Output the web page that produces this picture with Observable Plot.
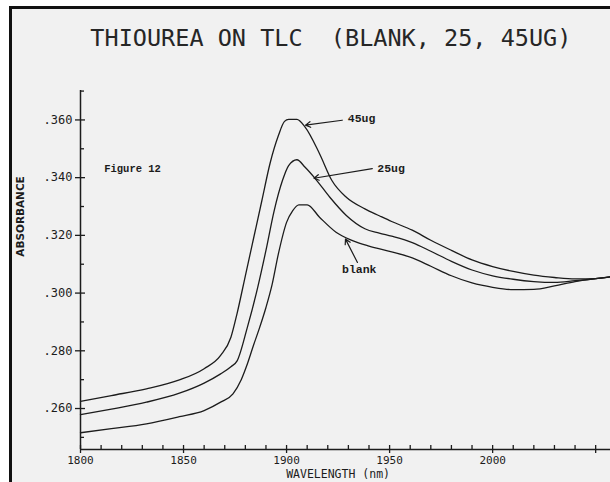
<!DOCTYPE html>
<html><head><meta charset="utf-8">
<script src="https://cdn.jsdelivr.net/npm/d3@7"></script>
<script src="https://cdn.jsdelivr.net/npm/@observablehq/plot@0.6"></script>
<style>
html,body{margin:0;padding:0;background:#fff;}
#wrap{position:relative;width:610px;height:482px;overflow:hidden;}
#paper{position:absolute;left:9px;top:6px;right:0;bottom:0;background:#f1f1f1;border-left:3px solid #111;border-top:3px solid #111;}
#chart{position:absolute;left:0;top:0;}
</style></head><body>
<div id="wrap"><div id="paper"></div><div id="chart"></div></div>
<script>
const title = "THIOUREA ON TLC  (BLANK, 25, 45UG)";
const xTitle = "WAVELENGTH (nm)";
const yTitle = "ABSORBANCE";
const figureLabel = "Figure 12";

const xLabeled = [1800, 1850, 1900, 1950, 2000];
const xMajor = [1800, 1850, 1900, 1950, 2000, 2050];
const xMinor = d3.range(1800, 2051, 10);
const yMajor = [0.26, 0.28, 0.30, 0.32, 0.34, 0.36];
const yMinor = [0.25, 0.27, 0.29, 0.31, 0.33, 0.35, 0.37];

// 45 ug
const ug45Nm = [1800,1815,1832,1848,1860,1868,1873,1876,1880,1884,1888,1892,1896,1899,1901,1905,1909,1916,1922,1929,1938,1945,1951,1961,1970,1980,1990,2000,2010,2020,2030,2040,2050,2057];
const ug45Abs = [0.2625,0.2645,0.2668,0.2699,0.2738,0.2784,0.2847,0.293,0.306,0.319,0.332,0.345,0.3545,0.3595,0.3602,0.3602,0.3575,0.3483,0.339,0.3332,0.3292,0.3268,0.3248,0.3218,0.3183,0.3148,0.3115,0.3092,0.3075,0.3062,0.3054,0.3049,0.305,0.3056];
// 25 ug
const ug25Nm = [1800,1815,1832,1848,1860,1868,1873,1876,1881,1886,1890,1894,1898,1901,1905,1909,1914,1921,1929,1938,1945,1951,1961,1970,1980,1990,2000,2010,2020,2030,2040,2050,2057];
const ug25Abs = [0.2579,0.2598,0.2622,0.2653,0.2688,0.272,0.2745,0.2765,0.2882,0.302,0.3148,0.3286,0.339,0.3442,0.3462,0.3436,0.3396,0.3332,0.3269,0.3223,0.3208,0.3197,0.3175,0.3145,0.311,0.308,0.306,0.3048,0.304,0.3037,0.3043,0.305,0.3056];
// blank
const blankNm = [1800,1815,1832,1848,1860,1868,1874,1878,1881,1884,1887,1890,1893,1896,1900,1903,1906,1910,1916,1924,1932,1940,1951,1961,1970,1980,1990,2000,2010,2020,2030,2040,2050,2057];
const blankAbs = [0.2516,0.253,0.2547,0.2572,0.2593,0.2622,0.2651,0.27,0.2755,0.282,0.2882,0.295,0.303,0.3135,0.3245,0.3286,0.3306,0.3306,0.3263,0.3211,0.3182,0.3163,0.3143,0.3122,0.3093,0.306,0.3035,0.302,0.3012,0.3013,0.3025,0.304,0.305,0.3056];

const annoText = ["45ug", "25ug", "blank"];
const annoNm = [1929.7, 1944.0, 1926.9];
const annoAbs = [0.3605, 0.3434, 0.3083];
const arrowFromNm = [1927.0, 1941.6, 1934.4];
const arrowFromAbs = [0.3599, 0.3431, 0.3106];
const arrowToNm = [1909.2, 1913.3, 1928.6];
const arrowToAbs = [0.3582, 0.3398, 0.3187];

const rows = (xs, ys) => xs.map((x, i) => ({nm: x, v: ys[i]}));
const series = [rows(ug45Nm, ug45Abs), rows(ug25Nm, ug25Abs), rows(blankNm, blankAbs)];
const annos = annoText.map((t, i) => ({t, x: annoNm[i], y: annoAbs[i]}));
const arrows = annoText.map((t, i) => ({x1: arrowFromNm[i], y1: arrowFromAbs[i], x2: arrowToNm[i], y2: arrowToAbs[i]}));

const ink = "#1c1c1c";
const mono = "DejaVu Sans Mono";
const yFmt = d => d3.format(".3f")(d).replace(/^0/, "");

const plot = Plot.plot({
  width: 610, height: 482,
  marginLeft: 80, marginRight: 0, marginTop: 90, marginBottom: 33,
  style: {background: "transparent", fontFamily: mono, color: ink},
  x: {domain: [1800, 2057.2]},
  y: {domain: [0.2458, 0.3702]},
  marks: [
    Plot.ruleX([1800], {stroke: ink, strokeWidth: 1.5}),
    Plot.ruleY([0.2458], {stroke: ink, strokeWidth: 1.5}),
    Plot.axisY({ticks: yMajor, tickSize: 5, tickPadding: 3, tickFormat: yFmt, fontSize: 12, label: null, strokeWidth: 1.3}),
    Plot.axisY({ticks: yMajor, tickSize: 5, dx: 5, tickFormat: () => "", label: null, strokeWidth: 1.3}),
    Plot.axisY({ticks: yMinor, tickSize: 4, dx: 4, tickFormat: () => "", label: null, strokeWidth: 1.3}),
    Plot.axisX({ticks: xMajor, tickSize: 4, tickFormat: () => "", label: null, strokeWidth: 1.3}),
    Plot.axisX({ticks: xLabeled, tickSize: 0, tickPadding: 7, tickFormat: d3.format("d"), fontSize: 11, label: null}),
    Plot.axisX({ticks: xMinor, tickSize: 4, dy: -4, tickFormat: () => "", label: null, strokeWidth: 1.3}),
    ...series.map(s => Plot.line(s, {x: "nm", y: "v", curve: "monotone-x", stroke: ink, strokeWidth: 1.3})),
    Plot.arrow(arrows, {x1: "x1", y1: "y1", x2: "x2", y2: "y2", stroke: ink, strokeWidth: 1.2, headLength: 7}),
    Plot.text(annos, {x: "x", y: "y", text: "t", textAnchor: "start", fontFamily: "Liberation Mono", fontWeight: "bold", fontSize: 11.5, fill: ink}),
    Plot.text([{t: figureLabel, x: 1811.5, y: 0.3431}], {x: "x", y: "y", text: "t", textAnchor: "start", fontFamily: "Liberation Mono", fontWeight: "bold", fontSize: 10.5, fill: ink}),
    Plot.text([{t: title, x: 1921.5}], {x: "x", text: "t", frameAnchor: "top", dy: -61.5, fontSize: 23.5, fontFamily: mono, fill: "#262626"}),
    Plot.text([{t: xTitle, x: 1925}], {x: "x", text: "t", frameAnchor: "bottom", dy: 28, fontSize: 11.5, fontFamily: mono, fill: ink}),
    Plot.text([{t: yTitle, y: 0.3126}], {y: "y", text: "t", frameAnchor: "left", dx: -60, rotate: -90, fontSize: 10.5, fontWeight: "bold", fontFamily: "DejaVu Sans", fill: ink})
  ]
});
document.getElementById("chart").appendChild(plot);
</script>
</body></html>
